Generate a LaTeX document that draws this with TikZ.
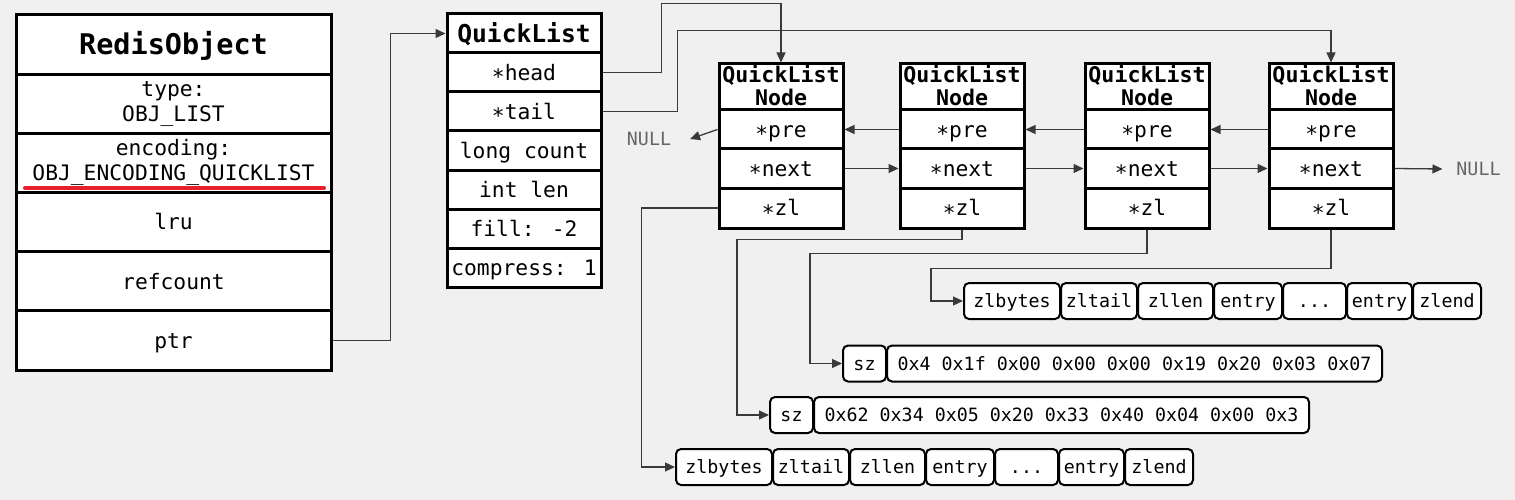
\documentclass[tikz,border=0pt]{standalone}
\usepackage{fontspec}
\usetikzlibrary{arrows.meta,calc}
\newfontfamily\mono{DejaVu Sans Mono}
\definecolor{bgc}{HTML}{F0F0F0}
\definecolor{linec}{HTML}{3A3A3A}
\definecolor{nullc}{HTML}{666666}
\definecolor{redc}{HTML}{E8202C}
\newcommand{\ptrstar}{\raisebox{-0.22em}{*}}
\tikzset{
  cell/.style={draw, line width=3pt, fill=white, inner sep=0pt, align=center,
    font=\mono\fontsize{21.3}{25}\selectfont},
  onecell/.style={cell, text height=15.5pt, text depth=0pt},
  celltitle/.style={cell, font=\mono\bfseries\fontsize{21.6}{24}\selectfont},
  rbox/.style={draw, line width=2pt, fill=white, rounded corners=5pt, inner sep=0pt,
    minimum height=36pt, text height=13.5pt, text depth=0pt,
    font=\mono\fontsize{18.3}{20}\selectfont},
  conn/.style={draw=linec, line width=1.3pt, -{Triangle[length=10pt,width=9pt]}},
  nulltxt/.style={text=nullc, inner ysep=0pt, outer sep=0pt, text height=13.5pt, text depth=0pt,
    font=\mono\fontsize{18.3}{20}\selectfont},
}
\begin{document}
\begin{tikzpicture}[x=1pt,y=-1pt]
\fill[bgc] (0,0) rectangle (1515,500);
\useasboundingbox (0,0) rectangle (1515,500);

% RedisObject
\node[onecell, minimum width=315pt, minimum height=59.2pt, text height=20.8pt, font=\mono\bfseries\fontsize{28.5}{30}\selectfont] (rtitle) at (173.5,44.6) {RedisObject};
\node[cell, minimum width=315pt, minimum height=59.2pt] (rtype) at (173.5,103.75) {type:\\OBJ\_LIST};
\node[cell, minimum width=315pt, minimum height=59.2pt] (renc) at (173.5,162.9) {encoding:\\OBJ\_ENCODING\_QUICKLIST};
\node[onecell, minimum width=315pt, minimum height=59.2pt] (rlru) at (173.5,222.1) {lru};
\node[onecell, minimum width=315pt, minimum height=59.2pt] (rref) at (173.5,281.25) {refcount};
\node[onecell, minimum width=315pt, minimum height=59.2pt] (rptr) at (173.5,340.4) {ptr};
\draw[redc, line width=4pt, line cap=round] (25,188) -- (324,188);

% QuickList
\node[onecell, minimum width=154pt, minimum height=39pt, text height=18pt, font=\mono\bfseries\fontsize{24.6}{26}\selectfont] (qtitle) at (524,33.5) {QuickList};
\node[onecell, minimum width=154pt, minimum height=39pt] (qhead) at (524,72.5) {\ptrstar head};
\node[onecell, minimum width=154pt, minimum height=39pt] (qtail) at (524,111.5) {\ptrstar tail};
\node[onecell, minimum width=154pt, minimum height=39pt] (qcount) at (524,150.5) {long count};
\node[onecell, minimum width=154pt, minimum height=39pt] (qlen) at (524,189.5) {int len};
\node[onecell, minimum width=154pt, minimum height=39pt] (qfill) at (524,228.5) {fill: -2};
\node[onecell, minimum width=154pt, minimum height=39pt] (qcomp) at (524,267.5) {compress: 1};

% QuickList Nodes
\foreach \i/\cx in {1/781, 2/962, 3/1147, 4/1331} {
  \node[celltitle, minimum width=124pt, minimum height=46pt] (n\i t) at (\cx,87) {\raisebox{3pt}{QuickList}\\\raisebox{4pt}{Node}};
  \node[onecell, minimum width=124pt, minimum height=39pt] (n\i p) at (\cx,129.5) {\ptrstar pre};
  \node[onecell, minimum width=124pt, minimum height=39pt] (n\i n) at (\cx,168.5) {\ptrstar next};
  \node[onecell, minimum width=124pt, minimum height=40pt] (n\i z) at (\cx,208) {\ptrstar zl};
}

% NULL labels
\node[nulltxt, inner xsep=19pt] (null1) at (649,139) {NULL};
\node[nulltxt, inner xsep=14pt] (null2) at (1478.5,169) {NULL};

% Row A (node 4)
\node[rbox, minimum width=96pt] (a1) at (1012,301) {zlbytes};
\node[rbox, minimum width=76pt] (a2) at (1099,301) {zltail};
\node[rbox, minimum width=75pt] (a3) at (1175.5,301) {zllen};
\node[rbox, minimum width=68pt] (a4) at (1248,301) {entry};
\node[rbox, minimum width=63pt] (a5) at (1314.5,301) {...};
\node[rbox, minimum width=65pt] (a6) at (1379.5,301) {entry};
\node[rbox, minimum width=68pt] (a7) at (1447,301) {zlend};

% Row B (node 3)
\node[rbox, minimum width=43pt] (bsz) at (864.5,363.5) {sz};
\node[rbox, minimum width=495pt] (bval) at (1134.5,363.5) {0x4 0x1f 0x00 0x00 0x00 0x19 0x20 0x03 0x07};

% Row C (node 2)
\node[rbox, minimum width=43pt] (csz) at (791.5,415) {sz};
\node[rbox, minimum width=495pt] (cval) at (1061.5,415) {0x62 0x34 0x05 0x20 0x33 0x40 0x04 0x00 0x3};

% Row D (node 1)
\node[rbox, minimum width=96pt] (d1) at (724,467) {zlbytes};
\node[rbox, minimum width=76pt] (d2) at (811,467) {zltail};
\node[rbox, minimum width=75pt] (d3) at (887.5,467) {zllen};
\node[rbox, minimum width=68pt] (d4) at (960,467) {entry};
\node[rbox, minimum width=63pt] (d5) at (1026.5,467) {...};
\node[rbox, minimum width=65pt] (d6) at (1091.5,467) {entry};
\node[rbox, minimum width=68pt] (d7) at (1159,467) {zlend};

% connectors
\draw[conn] (rptr.east) -- ++(58,0) |- (qtitle.west);
\draw[conn] (qhead.east) -- ++(59,0) |- ([yshift=59pt]n1t.north) -- (n1t.north);
\draw[conn] (qtail.east) -- ++(75,0) |- ([yshift=32pt]n4t.north) -- (n4t.north);

\draw[conn] (n1p.west) -- (null1.east);
\draw[conn] (n2p.west) -- (n1p.east);
\draw[conn] (n3p.west) -- (n2p.east);
\draw[conn] (n4p.west) -- (n3p.east);
\draw[conn] (n1n.east) -- (n2n.west);
\draw[conn] (n2n.east) -- (n3n.west);
\draw[conn] (n3n.east) -- (n4n.west);
\draw[conn] (n4n.east) -- (null2.west);

\draw[conn] (n1z.west) -- ++(-76,0) |- (d1.west);
\draw[conn] (n2z.south) -- ++(0,10) -| ([xshift=-32pt]csz.west) -- (csz.west);
\draw[conn] (n3z.south) -- ++(0,24) -| ([xshift=-32pt]bsz.west) -- (bsz.west);
\draw[conn] (n4z.south) -- ++(0,39) -| ([xshift=-32pt]a1.west) -- (a1.west);
\end{tikzpicture}
\end{document}
